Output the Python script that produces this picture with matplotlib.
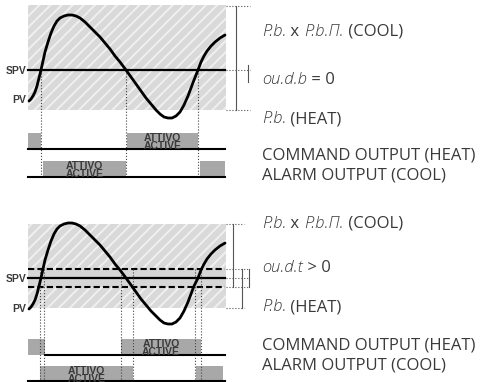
import matplotlib
matplotlib.use('Agg')
import matplotlib.pyplot as plt
from matplotlib.patches import Rectangle

plt.rcParams['hatch.linewidth'] = 1.4

# ---- data (pixel-like diagram coordinates, y grows downward) ----
pv_x = [29, 31, 33, 35, 37, 39, 41, 43, 45, 48, 51, 54, 57, 60, 64, 68, 72, 76,
        80, 85, 90, 95, 100, 105, 110, 115, 120, 126, 131, 136, 141, 146, 151,
        156, 160, 164, 168, 172, 176, 180, 184, 188, 191, 194, 198, 201, 204,
        207, 211, 215, 220, 225]
pv_top = [101, 99, 96, 92, 86, 78, 70, 61, 52, 42, 33, 26, 21, 18, 16, 15, 15, 16,
          18, 22, 27, 32, 37, 43, 49, 56, 62, 70, 77, 84, 91, 98, 104,
          110, 114, 117, 118, 118, 116, 112, 105, 96, 88, 80, 70, 62, 56,
          51, 46, 42, 38, 35]
pv_bottom = [309, 307, 304, 300, 294, 286, 278, 269, 260, 250, 241, 234, 229, 226, 224, 223, 223, 224,
             226, 230, 235, 240, 245, 251, 257, 264, 270, 278, 285, 292, 299, 305, 311,
             316, 320, 323, 324, 324, 322, 318, 311, 302, 294, 286, 278, 270, 264,
             259, 254, 250, 246, 243]

spv_top = 70
spv_bottom = 278
db_bottom = (269, 287)          # dead band limits (lower diagram)

cross_top = [41, 126, 198]
cross_bottom = [40, 44, 121, 133, 195, 201]

heat_top = [(28, 41), (127, 198)]
cool_top = [(43, 126), (200, 225)]
heat_bottom = [(28, 45), (121, 201)]
cool_bottom = [(40, 133), (196, 223)]

C_BAR = '#a8a8a8'
C_TXT = '#3a3a3a'
FS = 12

fig = plt.figure(figsize=(4.82, 3.82), dpi=100)
ax = fig.add_axes([0, 0, 1, 1])
ax.set_xlim(0, 482)
ax.set_ylim(382, 0)
ax.axis('off')


def band(y0, y1):
    ax.add_patch(Rectangle((28, y0), 198, y1 - y0, facecolor='#d9d9d9',
                           edgecolor='#f0f0f0', linewidth=0, hatch='///', zorder=1))


def bars(spans, y0, y1, active_label=None):
    for i, (a, b) in enumerate(spans):
        ax.add_patch(Rectangle((a, y0), b - a, y1 - y0, facecolor=C_BAR,
                               edgecolor='none', zorder=2))
        if active_label is not None and i == active_label:
            ax.text((a + b) / 2, (y0 + y1) / 2 + 1, 'ATTIVO\nACTIVE', ha='center',
                    va='center', fontsize=7.5, fontweight='bold', color=C_TXT,
                    family='Liberation Sans', linespacing=0.75, zorder=4)


def label(x, y, parts):
    prev = None
    for txt, seg in parts:
        kw = dict(fontsize=FS, color=C_TXT, family='Open Sans', va='center', ha='left')
        if seg:
            kw.update(fontstyle='italic', fontweight='light')
        if prev is None:
            prev = ax.text(x, y, txt, **kw)
        else:
            prev = ax.annotate(txt, xy=(1, 0.5), xycoords=prev, **kw)


def dotted_h(y, x0, x1):
    ax.plot([x0, x1], [y, y], ls=':', lw=0.8, color='#555555', zorder=3)


# ---------------- upper diagram ----------------
band(5, 110)
ax.plot([28, 225], [spv_top, spv_top], color='k', lw=1.6, zorder=3)
ax.plot(pv_x, pv_top, color='k', lw=2, zorder=4, solid_capstyle='round')
for xc in cross_top:
    ax.plot([xc, xc], [spv_top, 178], ls=':', lw=0.8, color='#444444', zorder=3)
bars(heat_top, 133, 149, active_label=1)
bars(cool_top, 161, 177, active_label=0)
ax.plot([28, 225], [149, 149], color='k', lw=1.5, zorder=3)
ax.plot([28, 225], [177, 177], color='k', lw=1.5, zorder=3)

ax.text(26, 71, 'SPV', ha='right', va='center', fontsize=7.5, fontweight='bold',
        family='Liberation Sans', color=C_TXT)
ax.text(26, 100, 'PV', ha='right', va='center', fontsize=7.5, fontweight='bold',
        family='Liberation Sans', color=C_TXT)

ax.plot([236, 236], [6, 110], color='#555555', lw=0.8)
for yy in (6, 70, 110):
    dotted_h(yy, 226, 250)
ax.plot([248, 248], [65, 82], color='#555555', lw=0.8)

label(262, 32, [('P.b.', True), (' x ', False), ('P.b.Π.', True), (' (COOL)', False)])
label(262, 80, [('ou.d.b', True), (' = 0', False)])
label(262, 119, [('P.b.', True), (' (HEAT)', False)])
ax.text(262, 155, 'COMMAND OUTPUT (HEAT)', fontsize=FS, color=C_TXT,
        family='Open Sans', va='center')
ax.text(262, 175, 'ALARM OUTPUT (COOL)', fontsize=FS, color=C_TXT,
        family='Open Sans', va='center')

# ---------------- lower diagram ----------------
band(224, 308)
ax.add_patch(Rectangle((28, db_bottom[0]), 198, db_bottom[1] - db_bottom[0],
                       facecolor='#d6d6d6', edgecolor='none', zorder=1.5))
ax.plot([28, 225], [spv_bottom, spv_bottom], color='k', lw=1.6, zorder=3)
for yd in db_bottom:
    ax.plot([28, 225], [yd, yd], color='k', lw=1.5, ls=(0, (3, 1.5)), zorder=3)
ax.plot(pv_x, pv_bottom, color='k', lw=2, zorder=4, solid_capstyle='round')
for xc in cross_bottom:
    ax.plot([xc, xc], [db_bottom[0], 381], ls=':', lw=0.8, color='#444444', zorder=3)
bars(heat_bottom, 339, 355, active_label=1)
bars(cool_bottom, 366, 381, active_label=0)
ax.plot([45, 225], [355, 355], color='k', lw=1.5, zorder=3)
ax.plot([28, 225], [381, 381], color='k', lw=1.5, zorder=3)

ax.text(26, 279, 'SPV', ha='right', va='center', fontsize=7.5, fontweight='bold',
        family='Liberation Sans', color=C_TXT)
ax.text(26, 309, 'PV', ha='right', va='center', fontsize=7.5, fontweight='bold',
        family='Liberation Sans', color=C_TXT)

ax.plot([233, 233], [224, 287], color='#555555', lw=0.8)
ax.plot([242, 242], [269, 308], color='#555555', lw=0.8)
ax.plot([249, 249], [269, 287], color='#555555', lw=0.8)
for yy in (224, 308):
    dotted_h(yy, 226, 244)
for yy in (269, 278, 287):
    dotted_h(yy, 226, 249)

label(262, 224, [('P.b.', True), (' x ', False), ('P.b.Π.', True), (' (COOL)', False)])
label(262, 268, [('ou.d.t', True), (' > 0', False)])
label(262, 307, [('P.b.', True), (' (HEAT)', False)])
ax.text(262, 346, 'COMMAND OUTPUT (HEAT)', fontsize=FS, color=C_TXT,
        family='Open Sans', va='center')
ax.text(262, 366, 'ALARM OUTPUT (COOL)', fontsize=FS, color=C_TXT,
        family='Open Sans', va='center')

fig.savefig('out.png', dpi=100)
